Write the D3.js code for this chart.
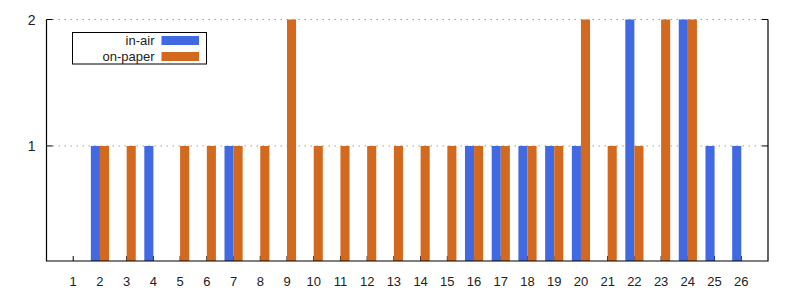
<!DOCTYPE html>
<html>
<head>
<meta charset="utf-8">
<script src="https://cdn.jsdelivr.net/npm/d3@7"></script>
<style>
  body { margin: 0; background: #fff; }
  svg text { font-family: "Liberation Sans", Arial, sans-serif; font-size: 13px; fill: #222; }
</style>
</head>
<body>
<div id="chart"></div>
<script>
// categories and series
const categories = d3.range(1, 27);
const inAir    = [0,1,0,1,0,0,1,0,0,0,0,0,0,0,0,1,1,1,1,1,0,2,0,2,1,1];
const onPaper  = [0,1,1,0,1,1,1,1,2,1,1,1,1,1,1,1,1,1,1,2,1,1,2,2,0,0];
const yTicks   = [1, 2];
const seriesNames  = ["in-air", "on-paper"];
const seriesColors = ["#4169e1", "#d2691e"];

const width = 800, height = 300;
const margin = {top: 19.5, right: 32, bottom: 39, left: 46.5};

let svg = d3.select("#chart").append("svg")
  .attr("width", width)
  .attr("height", height);

let x = d3.scaleLinear()
  .domain([0, 27])
  .range([margin.left, width - margin.right]);

let y = d3.scaleLinear()
  .domain([0.09, 2])
  .range([height - margin.bottom, margin.top]);

let barW = x(0.34) - x(0);

// grid lines
svg.append("g")
  .selectAll("line")
  .data(yTicks)
  .enter()
  .append("line")
  .attr("x1", x(0) + 6)
  .attr("x2", x(27) - 6)
  .attr("y1", d => y(d))
  .attr("y2", d => y(d))
  .attr("stroke", "#a0a0a0")
  .attr("stroke-width", 1)
  .attr("stroke-dasharray", "1.5,4.5");

// bars
let series = [inAir, onPaper];
let clip = svg.append("clipPath").attr("id", "plot")
  .append("rect")
  .attr("x", x(0)).attr("y", y(2) - 1)
  .attr("width", x(27) - x(0)).attr("height", y(0.09) - y(2) + 1);

let bars = svg.append("g").attr("clip-path", "url(#plot)");
series.forEach((vals, s) => {
  bars.selectAll(".bar" + s)
    .data(categories.map((c, i) => ({c: c, v: vals[i]})).filter(d => d.v > 0))
    .enter()
    .append("rect")
    .attr("class", "bar" + s)
    .attr("x", d => x(d.c) + (s === 0 ? -barW : 0))
    .attr("width", barW)
    .attr("y", d => y(d.v))
    .attr("height", d => y(0.09) - y(d.v))
    .attr("fill", seriesColors[s]);
});

// x ticks (inward, drawn under the bars like gnuplot does)
svg.insert("g", "g")
  .selectAll("line")
  .data(categories)
  .enter()
  .append("line")
  .attr("x1", d => x(d)).attr("x2", d => x(d))
  .attr("y1", y(0.09)).attr("y2", y(0.09) - 5)
  .attr("stroke", "#000");

// x labels
svg.append("g")
  .selectAll("text")
  .data(categories)
  .enter()
  .append("text")
  .attr("x", d => x(d))
  .attr("y", height - margin.bottom + 25)
  .attr("text-anchor", "middle")
  .text(d => d);

// y ticks, both sides inward
let yt = svg.append("g");
yTicks.forEach(t => {
  yt.append("line")
    .attr("x1", x(0)).attr("x2", x(0) + 6)
    .attr("y1", y(t)).attr("y2", y(t))
    .attr("stroke", "#000");
  yt.append("line")
    .attr("x1", x(27)).attr("x2", x(27) - 6)
    .attr("y1", y(t)).attr("y2", y(t))
    .attr("stroke", "#000");
  yt.append("text")
    .attr("x", x(0) - 11)
    .attr("y", y(t) + 5)
    .attr("text-anchor", "end")
    .style("font-size", "14px")
    .text(t);
});

// border: left, bottom, right
svg.append("path")
  .attr("d", `M${x(0)},${y(2)}V${y(0.09)}H${x(27)}V${y(2)}`)
  .attr("fill", "none")
  .attr("stroke", "#000")
  .attr("stroke-width", 1.2);

// legend
let legend = svg.append("g");
legend.append("rect")
  .attr("x", 72.5).attr("y", 32.5)
  .attr("width", 134).attr("height", 31.5)
  .attr("fill", "#fff")
  .attr("stroke", "#000");

seriesNames.forEach((name, i) => {
  let cy = 40.5 + i * 16;
  legend.append("text")
    .attr("x", 154.5)
    .attr("y", cy + 4.5)
    .attr("text-anchor", "end")
    .text(name);
  legend.append("rect")
    .attr("x", 161.5).attr("y", cy - 4.5)
    .attr("width", 37.5).attr("height", 9)
    .attr("fill", seriesColors[i]);
});
</script>
</body>
</html>
